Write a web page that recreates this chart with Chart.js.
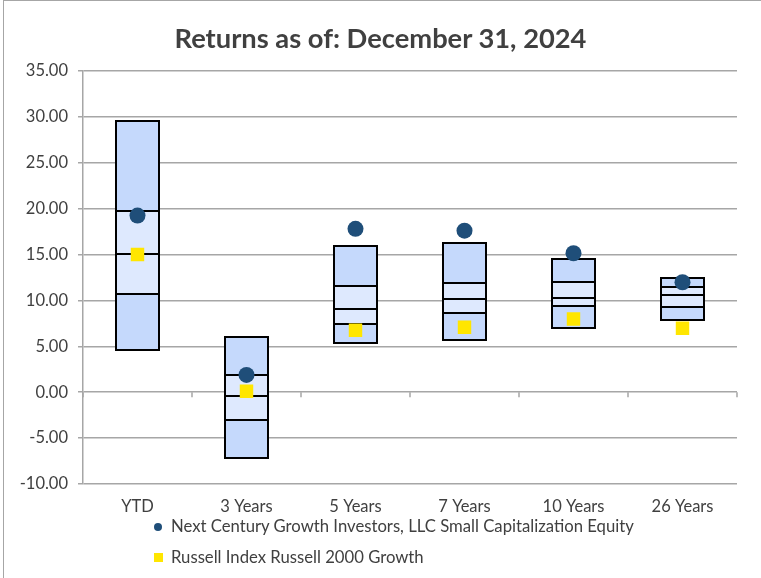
<!DOCTYPE html>
<html>
<head>
<meta charset="utf-8">
<script src="https://cdn.jsdelivr.net/npm/chart.js@4/dist/chart.umd.min.js"></script>
<style>
  html, body { margin: 0; padding: 0; background: #fff; }
  #wrap { position: relative; width: 761px; height: 578px; overflow: hidden; }
  #frame { position: absolute; left: 3px; top: 0; width: 800px; height: 600px;
           border-top: 1.5px solid #a6a6a6; border-left: 1.5px solid #a6a6a6; box-sizing: border-box; }
  #title { position: absolute; left: 0; width: 761px; top: 21px; text-align: center;
           font-family: Lato, "Open Sans", sans-serif; font-weight: bold; font-size: 27.3px; color: #404040; }
  .leg { position: absolute; left: 171px; font-family: Lato, sans-serif; font-size: 16.7px; color: #404040; line-height: 18px; white-space: nowrap; }
  .mk { position: absolute; }
  canvas { position: absolute; left: 0; top: 0; }
</style>
</head>
<body>
<div id="wrap">
  <div id="frame"></div>
  <canvas id="c" width="761" height="578"></canvas>
  <div id="title">Returns as of: December 31, 2024</div>
  <div class="mk" style="left:154px;top:523px;width:8px;height:8px;border-radius:50%;background:#1f4e79"></div>
  <div class="leg" style="top:517px">Next Century Growth Investors, LLC Small Capitalization Equity</div>
  <div class="mk" style="left:154px;top:553px;width:9px;height:9px;background:#ffe600"></div>
  <div class="leg" style="top:548px">Russell Index Russell 2000 Growth</div>
</div>
<script>
const categories = ["YTD", "3 Years", "5 Years", "7 Years", "10 Years", "26 Years"];
const p5  = [4.57, -7.19, 5.40, 5.70, 7.04, 7.91];
const p25 = [10.67, -2.98, 7.47, 8.64, 9.40, 9.33];
const p50 = [15.07, -0.45, 9.04, 10.13, 10.31, 10.56];
const p75 = [19.70, 1.85, 11.58, 11.94, 12.05, 11.50];
const p95 = [29.55, 5.99, 15.97, 16.23, 14.52, 12.48];
const manager = [19.25, 1.88, 17.80, 17.60, 15.14, 11.98];
const benchmark = [15.00, 0.10, 6.75, 7.08, 7.98, 6.97];
const yTicks = [-10, -5, 0, 5, 10, 15, 20, 25, 30, 35];

const dark = "rgb(197,217,252)";
const light = "rgb(222,233,254)";
function seg(lo, hi, color) {
  return {
    type: "bar",
    data: categories.map((c, i) => [lo[i], hi[i]]),
    backgroundColor: color,
    borderWidth: 0,
    grouped: false,
    categoryPercentage: 1,
    barPercentage: 0.395,
    order: 5
  };
}

// Crisp 2px outlines on the bar elements, drawn after all bars and before the markers
let barsDrawn = 0;
const outlines = {
  id: "outlines",
  beforeDatasetsDraw() { barsDrawn = 0; },
  afterDatasetDraw(chart, args) {
    if (args.meta.type !== "bar") return;
    barsDrawn++;
    if (barsDrawn < 4) return;
    const ctx = chart.ctx;
    ctx.save();
    ctx.strokeStyle = "#000";
    ctx.lineWidth = 2;
    chart.data.datasets.forEach((ds, di) => {
      const meta = chart.getDatasetMeta(di);
      if (meta.type !== "bar") return;
      meta.data.forEach(el => {
        const p = el.getProps(["x", "y", "base", "width"], true);
        const l = Math.round(p.x - p.width / 2), r = Math.round(p.x + p.width / 2);
        const t = Math.round(Math.min(p.y, p.base)), b = Math.round(Math.max(p.y, p.base));
        ctx.strokeRect(l, t, r - l, b - t);
      });
    });
    ctx.restore();
  }
};

const zeroTicks = {
  id: "zeroTicks",
  afterDatasetsDraw(chart) {
    const x = chart.scales.x, y = chart.scales.y, ctx = chart.ctx;
    const y0 = y.getPixelForValue(0);
    const step = x.getPixelForValue(1) - x.getPixelForValue(0);
    ctx.save();
    ctx.strokeStyle = "#a6a6a6";
    ctx.lineWidth = 1.5;
    ctx.beginPath();
    for (let i = 0; i <= categories.length; i++) {
      const px = x.getPixelForValue(0) - step / 2 + i * step;
      ctx.moveTo(px, y0);
      ctx.lineTo(px, y0 + 5);
    }
    ctx.stroke();
    ctx.restore();
  }
};

new Chart(document.getElementById("c"), {
  data: {
    labels: categories,
    datasets: [
      seg(p5, p25, dark),
      seg(p25, p50, light),
      seg(p50, p75, light),
      seg(p75, p95, dark),
      {
        type: "line", label: "Next Century Growth Investors, LLC Small Capitalization Equity",
        data: manager, showLine: false, pointStyle: "circle", pointRadius: 8,
        pointBackgroundColor: "#1f4e79", pointBorderWidth: 0, order: 1
      },
      {
        type: "line", label: "Russell Index Russell 2000 Growth",
        data: benchmark, showLine: false, pointStyle: "rect", pointRadius: 9.5,
        pointBackgroundColor: "#ffe600", pointBorderWidth: 0, order: 2
      }
    ]
  },
  options: {
    responsive: false,
    animation: false,
    layout: { padding: { left: 0, right: 24, top: 71, bottom: 54 } },
    plugins: { legend: { display: false }, title: { display: false }, tooltip: { enabled: false } },
    scales: {
      x: {
        offset: true,
        grid: { display: false },
        border: { display: false },
        ticks: { color: "#404040", font: { family: "Lato", size: 16.5 }, padding: 5 },
        afterFit(s) { s.height = 40; }
      },
      y: {
        min: -10, max: 35,
        afterBuildTicks(s) { s.ticks = yTicks.map(v => ({ value: v })); },
        grid: { color: "#a6a6a6", lineWidth: 1.5, tickLength: 5 },
        border: { display: true, color: "#a6a6a6", width: 1.5 },
        ticks: { color: "#404040", font: { family: "Lato", size: 16.5 }, padding: 10,
                 callback: v => Number(v).toFixed(2) },
        afterFit(s) { s.width = 83; }
      }
    }
  },
  plugins: [outlines, zeroTicks]
});
</script>
</body>
</html>
